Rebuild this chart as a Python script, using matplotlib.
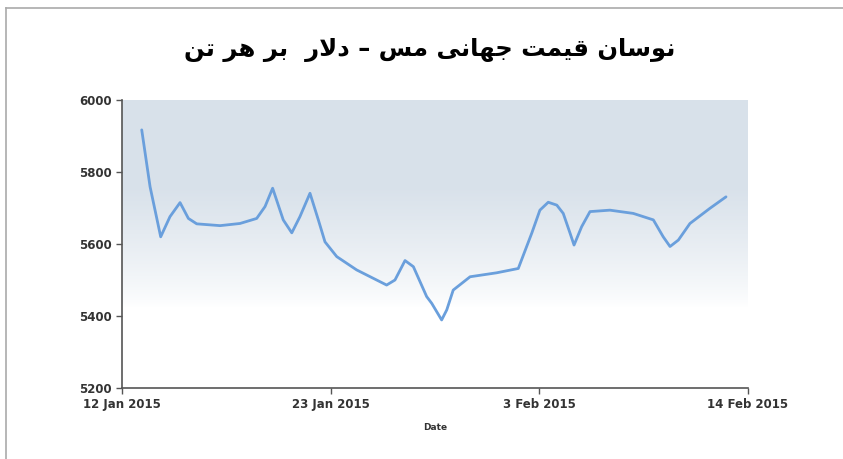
import matplotlib
matplotlib.use("Agg")
import matplotlib.pyplot as plt
import matplotlib.dates as mdates
import numpy as np
import datetime as dt

# داده ها: روز نسبت به 12 ژانویه 2015 و قیمت (دلار بر تن)
start_date = dt.datetime(2015, 1, 12)
day_offset = [1.04, 1.48, 2.04, 2.53, 3.06, 3.50, 3.94, 5.17, 6.22, 7.10,
              7.54, 7.94, 8.50, 8.95, 9.38, 9.91, 10.35, 10.70, 11.32, 12.37,
              13.95, 14.39, 14.92, 15.36, 16.06, 16.33, 16.85, 17.12, 17.46,
              18.35, 19.75, 20.89, 21.60, 22.03, 22.47, 22.92, 23.26, 23.62,
              23.83, 24.23, 24.67, 25.72, 26.95, 28.01, 28.53, 28.89, 29.33,
              29.94, 30.99, 31.84]
price = [5917, 5759, 5620, 5676, 5715, 5671, 5656, 5651, 5657, 5671,
         5704, 5755, 5667, 5631, 5676, 5741, 5667, 5606, 5565, 5528,
         5486, 5500, 5554, 5537, 5454, 5435, 5389, 5417, 5472,
         5509, 5520, 5532, 5630, 5694, 5716, 5708, 5685, 5630,
         5597, 5648, 5690, 5694, 5685, 5667, 5620, 5593, 5611,
         5657, 5699, 5731]

tick_dates = [dt.datetime(2015, 1, 12), dt.datetime(2015, 1, 23),
              dt.datetime(2015, 2, 3), dt.datetime(2015, 2, 14)]
y_ticks = [5200, 5400, 5600, 5800, 6000]

# عنوان فارسی به صورت حروف چسبیده و ترتیب دیداری
title_logical = ("\uFEE7\uFEEE\uFEB3\uFE8E\uFEE5 "      # نوسان
                 "\uFED7\uFBFF\uFEE4\uFE96 "            # قیمت
                 "\uFE9F\uFEEC\uFE8E\uFEE7\uFBFD "      # جهانی
                 "\uFEE3\uFEB2 \u2013 "                 # مس –
                 "\uFEA9\uFEFB\uFEAD  "                 # دلار
                 "\uFE91\uFEAE "                        # بر
                 "\uFEEB\uFEAE "                        # هر
                 "\uFE97\uFEE6")                        # تن
title_text = title_logical[::-1]

x = mdates.date2num(start_date) + np.array(day_offset)

fig = plt.figure(figsize=(8.43, 4.59), dpi=100)
ax = fig.add_axes([122/843, 1-388/459, (748-122)/843, (388-100)/459])

# پس زمینه طوسی-آبی که به سفید محو میشود
grad = np.linspace(0, 1, 256)
alpha = np.clip((grad - 0.28) / 0.42, 0, 1) ** 0.8
col = np.ones((256, 1, 4))
col[:, 0, 0] = 0.85
col[:, 0, 1] = 0.885
col[:, 0, 2] = 0.92
col[:, 0, 3] = alpha
ax.imshow(col, extent=[0, 1, 0, 1], transform=ax.transAxes, aspect="auto",
          origin="lower", zorder=0)

ax.plot(x, price, color="#6a9fdc", linewidth=2.0, solid_joinstyle="round",
        solid_capstyle="round", zorder=3)

ax.set_xlim(mdates.date2num(tick_dates[0]), mdates.date2num(tick_dates[-1]))
ax.set_ylim(5200, 6000)
ax.set_xticks(mdates.date2num(tick_dates))
ax.xaxis.set_major_formatter(mdates.DateFormatter("%-d %b %Y"))
ax.set_yticks(y_ticks)

for s in ["top", "right"]:
    ax.spines[s].set_visible(False)
for s in ["left", "bottom"]:
    ax.spines[s].set_color("#555555")
    ax.spines[s].set_linewidth(1.2)

ax.tick_params(axis="both", length=4, width=1, color="#555555",
               labelsize=8.5, labelcolor="#333333")
for lab in ax.get_xticklabels() + ax.get_yticklabels():
    lab.set_fontweight("bold")

ax.set_xlabel("Date", fontsize=6.5, fontweight="bold", color="#333333",
              labelpad=8)

fig.text(0.51, 1-50/459, title_text, ha="center", va="center",
         fontsize=17.5, fontweight="bold", family=["DejaVu Sans"], color="black")

# قاب دور تصویر
fig.add_artist(plt.Line2D([6/843, 6/843], [0, 1-8/459], color="#aaaaaa",
                          linewidth=1.2, transform=fig.transFigure))
fig.add_artist(plt.Line2D([6/843, 1], [1-8/459, 1-8/459], color="#aaaaaa",
                          linewidth=1.2, transform=fig.transFigure))

fig.savefig("out.png", dpi=100)
